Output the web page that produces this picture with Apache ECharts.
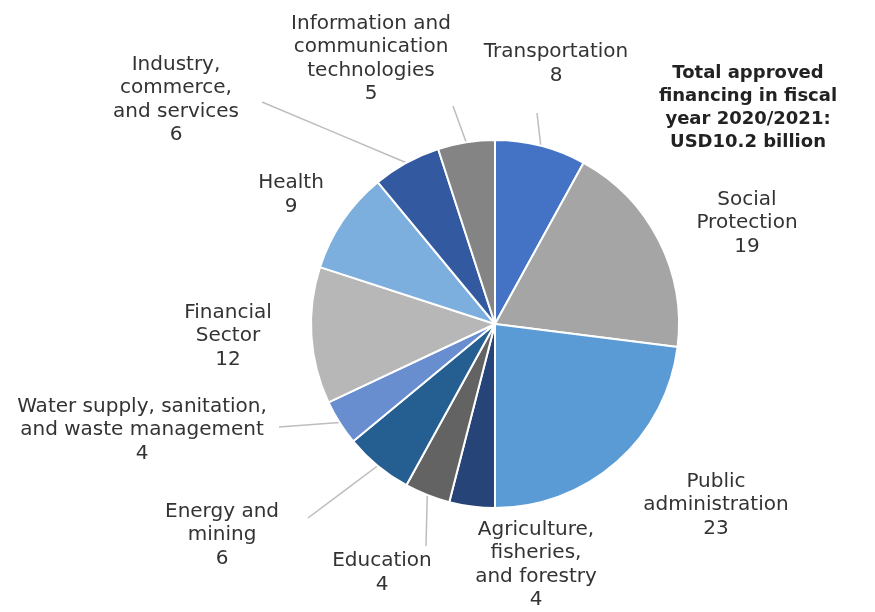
<!DOCTYPE html>
<html>
<head>
<meta charset="utf-8">
<script src="https://cdn.jsdelivr.net/npm/echarts@6/dist/echarts.min.js"></script>
<style>html,body{margin:0;padding:0;background:#fff}#c{width:875px;height:612px}</style>
</head>
<body>
<div id="c"></div>
<script>
const categories = [
  "Transportation",
  "Social\nProtection",
  "Public\nadministration",
  "Agriculture,\nfisheries,\nand forestry",
  "Education",
  "Energy and\nmining",
  "Water supply, sanitation,\nand waste management",
  "Financial\nSector",
  "Health",
  "Industry,\ncommerce,\nand services",
  "Information and\ncommunication\ntechnologies"
];
const values = [8, 19, 23, 4, 4, 6, 4, 12, 9, 6, 5];
const colors = ["#4472C4", "#A5A5A5", "#5B9BD5", "#264478", "#636363", "#255E91", "#698ED0", "#B7B7B7", "#7CAFDD", "#335AA1", "#848484"];
const titleText = "Total approved\nfinancing in fiscal\nyear 2020/2021:\nUSD10.2 billion";

// label placement (layout, not data): centre of each label block
const labelPos = [
  [556, 64], [747, 223], [716, 505], [536, 565], [382, 573], [222, 535],
  [142, 430], [228, 336], [291, 195], [176, 100], [371, 59]
];
// where each leader line ends next to its label (null = no leader line)
const lineEnds = [
  [537, 113], null, null, null, [426, 546], [308, 518],
  [279, 427], null, null, [262, 102], [453, 106]
];

const chart = echarts.init(document.getElementById('c'), null, {renderer: 'canvas'});
chart.setOption({
  backgroundColor: '#fff',
  animation: false,
  graphic: [{
    type: 'text', x: 748, y: 108,
    style: {text: titleText, font: 'bold 18px "DejaVu Sans"', fill: '#222', align: 'center', verticalAlign: 'middle', lineHeight: 23}
  }],
  series: [{
    type: 'pie',
    center: [495, 324],
    radius: [0, 184],
    startAngle: 90,
    clockwise: true,
    itemStyle: {borderColor: '#fff', borderWidth: 2},
    label: {
      show: true, position: 'outside',
      formatter: '{b}\n{c}',
      fontFamily: 'DejaVu Sans', fontSize: 20, color: '#333', lineHeight: 23.5, align: 'center'
    },
    labelLine: {show: true, length: 2, length2: 0, smooth: false, lineStyle: {color: '#BDBDBD', width: 1.5}},
    labelLayout: function (params) {
      const i = params.dataIndex;
      const p = labelPos[i];
      const out = {x: p[0], y: p[1], align: 'center', verticalAlign: 'middle'};
      const e = lineEnds[i];
      if (e && params.labelLinePoints) {
        const s = params.labelLinePoints[0];
        out.labelLinePoints = [[s[0], s[1]], [(s[0] + e[0]) / 2, (s[1] + e[1]) / 2], [e[0], e[1]]];
      }
      return out;
    },
    data: categories.map((n, i) => ({
      name: n, value: values[i],
      itemStyle: {color: colors[i]},
      labelLine: {show: !!lineEnds[i]}
    }))
  }]
});
</script>
</body>
</html>
